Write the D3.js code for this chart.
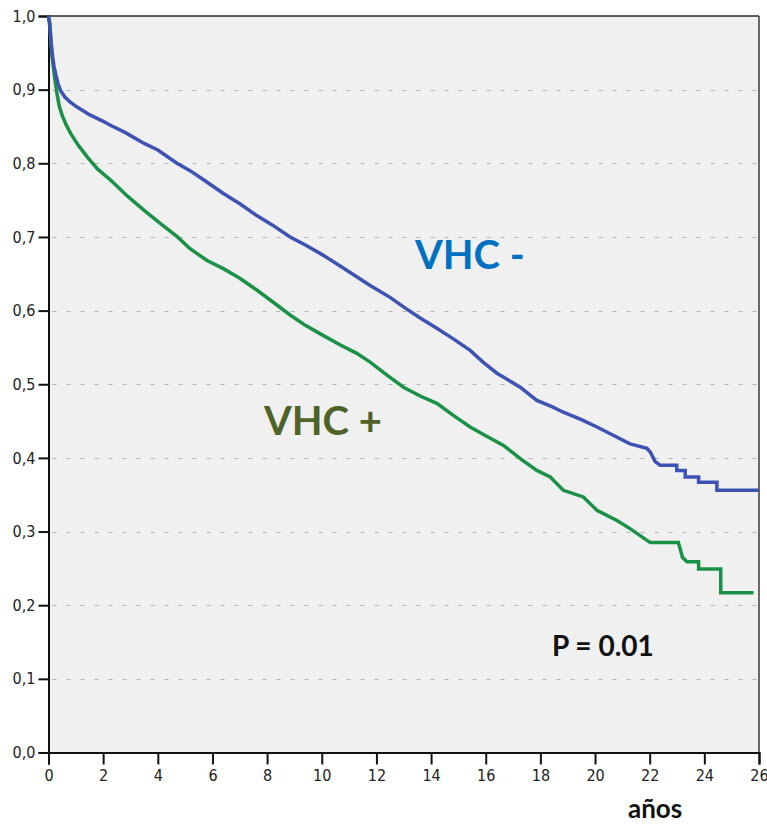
<!DOCTYPE html>
<html>
<head>
<meta charset="utf-8">
<script src="https://cdn.jsdelivr.net/npm/d3@7"></script>
<style>
  html, body { margin: 0; padding: 0; background: #ffffff; }
  svg { display: block; }
</style>
</head>
<body>
<svg id="chart" width="767" height="825"></svg>
<script>
// Kaplan-Meier survival, years since baseline
const yTickValues = [0, 0.1, 0.2, 0.3, 0.4, 0.5, 0.6, 0.7, 0.8, 0.9, 1.0];
const xTickValues = [0, 2, 4, 6, 8, 10, 12, 14, 16, 18, 20, 22, 24, 26];

// VHC negative group: [time (years), survival]
const vhcNeg = [
  [0, 1.0], [0.05, 0.985], [0.1, 0.962], [0.15, 0.945], [0.2, 0.932], [0.27, 0.92],
  [0.35, 0.908], [0.45, 0.898], [0.6, 0.89], [0.8, 0.883], [1.06, 0.876], [1.5, 0.866],
  [2.0, 0.857], [2.3, 0.851], [2.8, 0.842], [3.5, 0.827], [4.0, 0.818], [4.7, 0.80],
  [5.18, 0.79], [5.7, 0.777], [6.4, 0.759], [7.0, 0.745], [7.62, 0.729], [8.2, 0.716],
  [8.84, 0.70], [9.4, 0.689], [10.06, 0.675], [10.7, 0.66], [11.28, 0.646], [11.77, 0.634],
  [12.5, 0.618], [12.99, 0.605], [13.6, 0.59], [14.21, 0.576], [14.8, 0.562], [15.43, 0.546],
  [15.9, 0.53], [16.41, 0.515], [17.26, 0.496], [17.87, 0.478], [18.4, 0.47], [18.84, 0.462],
  [19.5, 0.452], [20.07, 0.442], [20.7, 0.43], [21.28, 0.419], [21.9, 0.413], [22.02, 0.408],
  [22.2, 0.395], [22.38, 0.39], [22.99, 0.39], [22.99, 0.383], [23.3, 0.383], [23.3, 0.374],
  [23.79, 0.374], [23.79, 0.367], [24.46, 0.367], [24.46, 0.356], [26.0, 0.356]
];

// VHC positive group: [time (years), survival]
const vhcPos = [
  [0, 1.0], [0.05, 0.99], [0.09, 0.965], [0.13, 0.945], [0.18, 0.93], [0.24, 0.912],
  [0.3, 0.897], [0.39, 0.878], [0.5, 0.865], [0.65, 0.852], [0.82, 0.84], [1.1, 0.824],
  [1.43, 0.808], [1.8, 0.792], [2.28, 0.777], [2.9, 0.755], [3.5, 0.736], [4.1, 0.718],
  [4.72, 0.70], [5.18, 0.684], [5.8, 0.668], [6.4, 0.657], [7.0, 0.644], [7.62, 0.628],
  [8.2, 0.612], [8.84, 0.594], [9.4, 0.58], [10.06, 0.566], [10.7, 0.553], [11.28, 0.542],
  [11.77, 0.53], [12.4, 0.512], [12.99, 0.496], [13.6, 0.484], [14.21, 0.474], [14.8, 0.458],
  [15.43, 0.442], [16.0, 0.43], [16.65, 0.417], [17.3, 0.398], [17.87, 0.383], [18.36, 0.374],
  [18.84, 0.356], [19.57, 0.347], [20.07, 0.329], [20.8, 0.315], [21.28, 0.304], [22.02, 0.285],
  [23.05, 0.285], [23.2, 0.265], [23.36, 0.259], [23.79, 0.259], [23.79, 0.249], [24.6, 0.249],
  [24.6, 0.217], [25.8, 0.217]
];

const svg = d3.select("#chart");
const margin = { left: 48.5, right: 8, top: 16, bottom: 72.5 };
const W = 767, H = 825;
const x = d3.scaleLinear().domain([0, 26]).range([margin.left, W - margin.right]);
const y = d3.scaleLinear().domain([0, 1]).range([H - margin.bottom, margin.top]);

// plot background
svg.append("rect")
  .attr("x", x(0)).attr("y", y(1))
  .attr("width", x(26) - x(0)).attr("height", y(0) - y(1))
  .attr("fill", "#f0f0f0");

// dashed reference lines
svg.append("g").selectAll("line")
  .data(yTickValues.filter(v => v > 0 && v < 1))
  .join("line")
  .attr("x1", x(0) + 4).attr("x2", x(26))
  .attr("y1", d => Math.round(y(d)) + 0.5).attr("y2", d => Math.round(y(d)) + 0.5)
  .attr("stroke", "#b4b4b4").attr("stroke-width", 1)
  .attr("stroke-dasharray", "4,10");

// frame: top and right
svg.append("line")
  .attr("x1", x(0)).attr("x2", x(26)).attr("y1", y(1)).attr("y2", y(1))
  .attr("stroke", "#2a2a2a").attr("stroke-width", 1.5);
svg.append("line")
  .attr("x1", x(26)).attr("x2", x(26)).attr("y1", y(1)).attr("y2", y(0))
  .attr("stroke", "#3a3a3a").attr("stroke-width", 1.5);

const fmt = d => d3.format(".1f")(d).replace(".", ",");

const yAxis = d3.axisLeft(y).tickValues(yTickValues).tickFormat(fmt).tickSize(10).tickPadding(3);
const xAxis = d3.axisBottom(x).tickValues(xTickValues).tickFormat(d3.format("d")).tickSize(12).tickPadding(5);

const gy = svg.append("g").attr("transform", `translate(${x(0)},0)`).call(yAxis);
const gx = svg.append("g").attr("transform", `translate(0,${y(0)})`).call(xAxis);

[gy, gx].forEach(g => {
  g.select(".domain").attr("stroke", "#111").attr("stroke-width", 2);
  g.selectAll(".tick line").attr("stroke", "#111").attr("stroke-width", 2);
  g.selectAll(".tick text")
    .attr("fill", "#222")
    .style("font-family", "'DejaVu Sans Condensed', 'DejaVu Sans', sans-serif")
    .style("font-size", "16px");
});

// survival curves
const line = d3.line().x(d => x(d[0])).y(d => y(d[1])).curve(d3.curveLinear);

svg.append("path").datum(vhcPos)
  .attr("d", line).attr("fill", "none")
  .attr("stroke", "#1a9146").attr("stroke-width", 3.5)
  .attr("stroke-linejoin", "miter");

svg.append("path").datum(vhcNeg)
  .attr("d", line).attr("fill", "none")
  .attr("stroke", "#3d52b2").attr("stroke-width", 3.5)
  .attr("stroke-linejoin", "miter");

// annotations
const labelFont = "Lato, 'Open Sans', sans-serif";
svg.append("text")
  .attr("x", 415).attr("y", 269)
  .attr("fill", "#0070c0")
  .style("font-family", labelFont).style("font-weight", "bold").style("font-size", "40px")
  .text("VHC -");

svg.append("text")
  .attr("x", 264).attr("y", 435)
  .attr("fill", "#4f6228")
  .style("font-family", labelFont).style("font-weight", "bold").style("font-size", "40px")
  .text("VHC +");

svg.append("text")
  .attr("x", 552).attr("y", 656)
  .attr("fill", "#111")
  .style("font-family", labelFont).style("font-weight", "bold").style("font-size", "28px")
  .text("P = 0.01");

svg.append("text")
  .attr("x", 628).attr("y", 818)
  .attr("fill", "#111")
  .style("font-family", labelFont).style("font-weight", "bold").style("font-size", "26px")
  .text("años");
</script>
</body>
</html>
